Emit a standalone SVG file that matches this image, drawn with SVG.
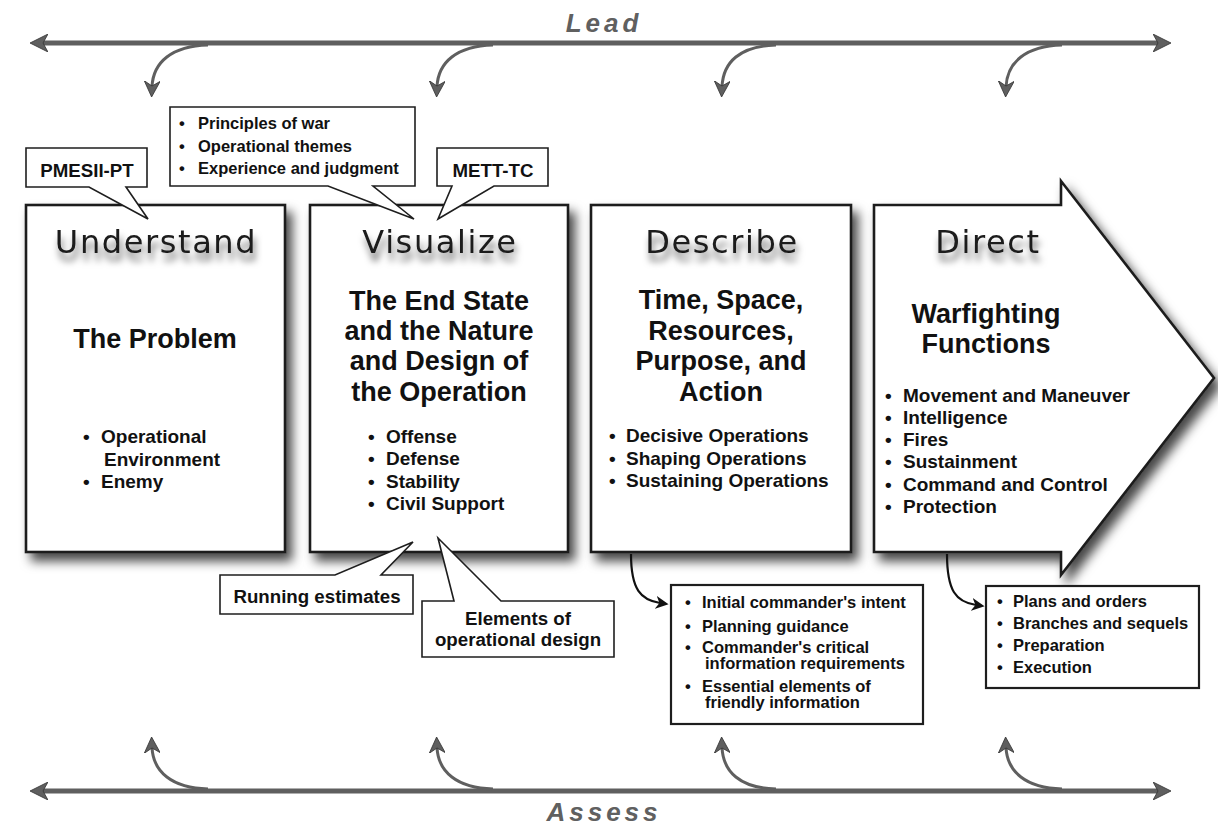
<svg xmlns="http://www.w3.org/2000/svg" width="1218" height="827" viewBox="0 0 1218 827">
<defs>
<style>
.box{fill:#fff;stroke:#1e1e1e;stroke-width:2.6;filter:url(#bsh)}
.co{fill:#fff;stroke:#1e1e1e;stroke-width:1.6;stroke-linejoin:miter}
.lst{fill:#fff;stroke:#1e1e1e;stroke-width:2.2}
.ttl{font-family:"DejaVu Sans",sans-serif;font-weight:normal;font-size:32px;letter-spacing:1.6px;fill:#1a1a1a;text-anchor:middle;filter:url(#tsh)}
.hd{font-family:"Liberation Sans",Arial,sans-serif;font-weight:bold;font-size:27px;fill:#111;text-anchor:middle}
.bl{font-family:"Liberation Sans",Arial,sans-serif;font-weight:bold;font-size:19px;fill:#111}
.sm{font-family:"Liberation Sans",Arial,sans-serif;font-weight:bold;font-size:16.5px;fill:#111}
.ct{font-family:"Liberation Sans",Arial,sans-serif;font-weight:bold;font-size:18.7px;fill:#111;text-anchor:middle}
.big{font-family:"Liberation Sans",Arial,sans-serif;font-weight:bold;font-style:italic;font-size:26px;letter-spacing:4px;fill:#606060;text-anchor:middle}
.gl{fill:none;stroke:#5f5f5f;stroke-width:5}
.gc{fill:none;stroke:#5f5f5f;stroke-width:3;marker-end:url(#ga)}
.bc{fill:none;stroke:#111;stroke-width:2.2;marker-end:url(#ba)}
</style>
<filter id="bsh" x="-20%" y="-20%" width="150%" height="150%">
<feDropShadow dx="6" dy="8" stdDeviation="5.5" flood-color="#000" flood-opacity="0.72"/>
</filter>
<filter id="tsh" x="-20%" y="-30%" width="140%" height="190%">
<feGaussianBlur in="SourceAlpha" stdDeviation="3.5" result="b"/>
<feOffset in="b" dx="2" dy="8" result="o"/>
<feFlood flood-color="#000" flood-opacity="0.6"/>
<feComposite in2="o" operator="in" result="s"/>
<feMerge><feMergeNode in="s"/><feMergeNode in="SourceGraphic"/></feMerge>
</filter>
<marker id="gm" viewBox="0 0 18 18" markerWidth="18" markerHeight="18" refX="9" refY="9" orient="auto-start-reverse" markerUnits="userSpaceOnUse">
<path d="M0,0 L18,9 L0,18 L5,9 z" fill="#5f5f5f" stroke="#333" stroke-width="0.8"/>
</marker>
<marker id="ga" viewBox="0 0 16 16" markerWidth="16" markerHeight="16" refX="6" refY="8" orient="auto" markerUnits="userSpaceOnUse">
<path d="M0,0 L16,8 L0,16 L5,8 z" fill="#5f5f5f" stroke="#333" stroke-width="0.8"/>
</marker>
<marker id="ba" viewBox="0 0 12 12" markerWidth="13" markerHeight="13" refX="4" refY="6" orient="auto" markerUnits="userSpaceOnUse">
<path d="M0,0 L12,6 L0,12 L3.5,6 z" fill="#111"/>
</marker>
</defs>
<rect width="1218" height="827" fill="#fff"/>

<g id="understand">
<rect class="box" x="26" y="205" width="259" height="347"/>
<text class="ttl" x="156" y="253">Understand</text>
<text class="hd" x="155" y="348">The Problem</text>
<text class="bl" x="83" y="443">•</text><text class="bl" x="101" y="443">Operational</text>
<text class="bl" x="104" y="466">Environment</text>
<text class="bl" x="83" y="488">•</text><text class="bl" x="101" y="488">Enemy</text>
</g>

<g id="visualize">
<rect class="box" x="310" y="205" width="258" height="347"/>
<text class="ttl" x="440" y="253">Visualize</text>
<text class="hd" x="439" y="310">The End State</text>
<text class="hd" x="439" y="340">and the Nature</text>
<text class="hd" x="439" y="370">and Design of</text>
<text class="hd" x="439" y="401">the Operation</text>
<text class="bl" x="368" y="443">•</text><text class="bl" x="386" y="443">Offense</text>
<text class="bl" x="368" y="465">•</text><text class="bl" x="386" y="465">Defense</text>
<text class="bl" x="368" y="488">•</text><text class="bl" x="386" y="488">Stability</text>
<text class="bl" x="368" y="510">•</text><text class="bl" x="386" y="510">Civil Support</text>
</g>

<g id="describe">
<rect class="box" x="591" y="205" width="260" height="347"/>
<text class="ttl" x="722" y="253">Describe</text>
<text class="hd" x="721" y="309">Time, Space,</text>
<text class="hd" x="721" y="340">Resources,</text>
<text class="hd" x="721" y="370">Purpose, and</text>
<text class="hd" x="721" y="401">Action</text>
<text class="bl" x="609" y="442">•</text><text class="bl" x="626" y="442">Decisive Operations</text>
<text class="bl" x="609" y="465">•</text><text class="bl" x="626" y="465">Shaping Operations</text>
<text class="bl" x="609" y="487">•</text><text class="bl" x="626" y="487">Sustaining Operations</text>
</g>

<g id="direct">
<polygon class="box" points="874,205 1061,205 1061,181 1214,378 1061,575 1061,552 874,552"/>
<text class="ttl" x="988" y="253">Direct</text>
<text class="hd" x="986" y="323">Warfighting</text>
<text class="hd" x="986" y="353">Functions</text>
<text class="bl" x="885" y="402">•</text><text class="bl" x="903" y="402">Movement and Maneuver</text>
<text class="bl" x="885" y="424">•</text><text class="bl" x="903" y="424">Intelligence</text>
<text class="bl" x="885" y="446">•</text><text class="bl" x="903" y="446">Fires</text>
<text class="bl" x="885" y="468">•</text><text class="bl" x="903" y="468">Sustainment</text>
<text class="bl" x="885" y="491">•</text><text class="bl" x="903" y="491">Command and Control</text>
<text class="bl" x="885" y="513">•</text><text class="bl" x="903" y="513">Protection</text>
</g>

<g id="describe-list">
<rect class="lst" x="671" y="585" width="252" height="139"/>
<text class="sm" x="685" y="608">•</text><text class="sm" x="702" y="608">Initial commander's intent</text>
<text class="sm" x="685" y="632">•</text><text class="sm" x="702" y="632">Planning guidance</text>
<text class="sm" x="685" y="653">•</text><text class="sm" x="702" y="653">Commander's critical</text>
<text class="sm" x="705" y="669">information requirements</text>
<text class="sm" x="685" y="692">•</text><text class="sm" x="702" y="692">Essential elements of</text>
<text class="sm" x="705" y="708">friendly information</text>
</g>

<g id="direct-list">
<rect class="lst" x="986" y="586" width="213" height="102"/>
<text class="sm" x="997" y="607">•</text><text class="sm" x="1013" y="607">Plans and orders</text>
<text class="sm" x="997" y="629">•</text><text class="sm" x="1013" y="629">Branches and sequels</text>
<text class="sm" x="997" y="651">•</text><text class="sm" x="1013" y="651">Preparation</text>
<text class="sm" x="997" y="673">•</text><text class="sm" x="1013" y="673">Execution</text>
</g>

<g id="pmesii">
<polygon class="co" points="26,148 147,148 147,187 126,187 148,219 89,187 26,187"/>
<text class="ct" x="87" y="177">PMESII-PT</text>
</g>

<g id="principles">
<polygon class="co" points="170,107 415,107 415,186 373,186 414,219 328,186 170,186"/>
<text class="sm" x="179" y="129">•</text><text class="sm" x="198" y="129">Principles of war</text>
<text class="sm" x="179" y="152">•</text><text class="sm" x="198" y="152">Operational themes</text>
<text class="sm" x="179" y="174">•</text><text class="sm" x="198" y="174">Experience and judgment</text>
</g>

<g id="mett-tc">
<polygon class="co" points="437,148 548,148 548,186 494,186 438,219 452,186 437,186"/>
<text class="ct" x="493" y="177">METT-TC</text>
</g>

<g id="running-estimates">
<polygon class="co" points="220,575 335,575 413,542 381,575 413,575 413,614 220,614"/>
<text class="ct" x="317" y="603">Running estimates</text>
</g>

<g id="elements">
<polygon class="co" points="422,601 454,601 438,538 501,601 614,601 614,657 422,657"/>
<text class="ct" x="518" y="625">Elements of</text>
<text class="ct" x="518" y="646">operational design</text>
</g>

<g id="connectors">
<path class="gl" d="M39,43 L1162,43" marker-start="url(#gm)" marker-end="url(#gm)"/>
<path class="gc" d="M208,45 C172,46 153,62 152,87"/>
<path class="gc" d="M493,45 C457,46 438,62 437,87"/>
<path class="gc" d="M776,45 C740,46 723,62 722,87"/>
<path class="gc" d="M1062,45 C1026,46 1007,62 1006,87"/>
<path class="gl" d="M39,791 L1162,791" marker-start="url(#gm)" marker-end="url(#gm)"/>
<path class="gc" d="M208,789 C172,788 153,772 152,747"/>
<path class="gc" d="M493,789 C457,788 438,772 437,747"/>
<path class="gc" d="M776,789 C740,788 723,772 722,747"/>
<path class="gc" d="M1062,789 C1026,788 1007,772 1006,747"/>
<path class="bc" d="M631,554 C631,590 641,600 660,603"/>
<path class="bc" d="M947,554 C947,591 956,602 976,605"/>
</g>

<g id="labels">
<text class="big" x="604" y="32">Lead</text>
<text class="big" x="604" y="821">Assess</text>
</g>
</svg>
